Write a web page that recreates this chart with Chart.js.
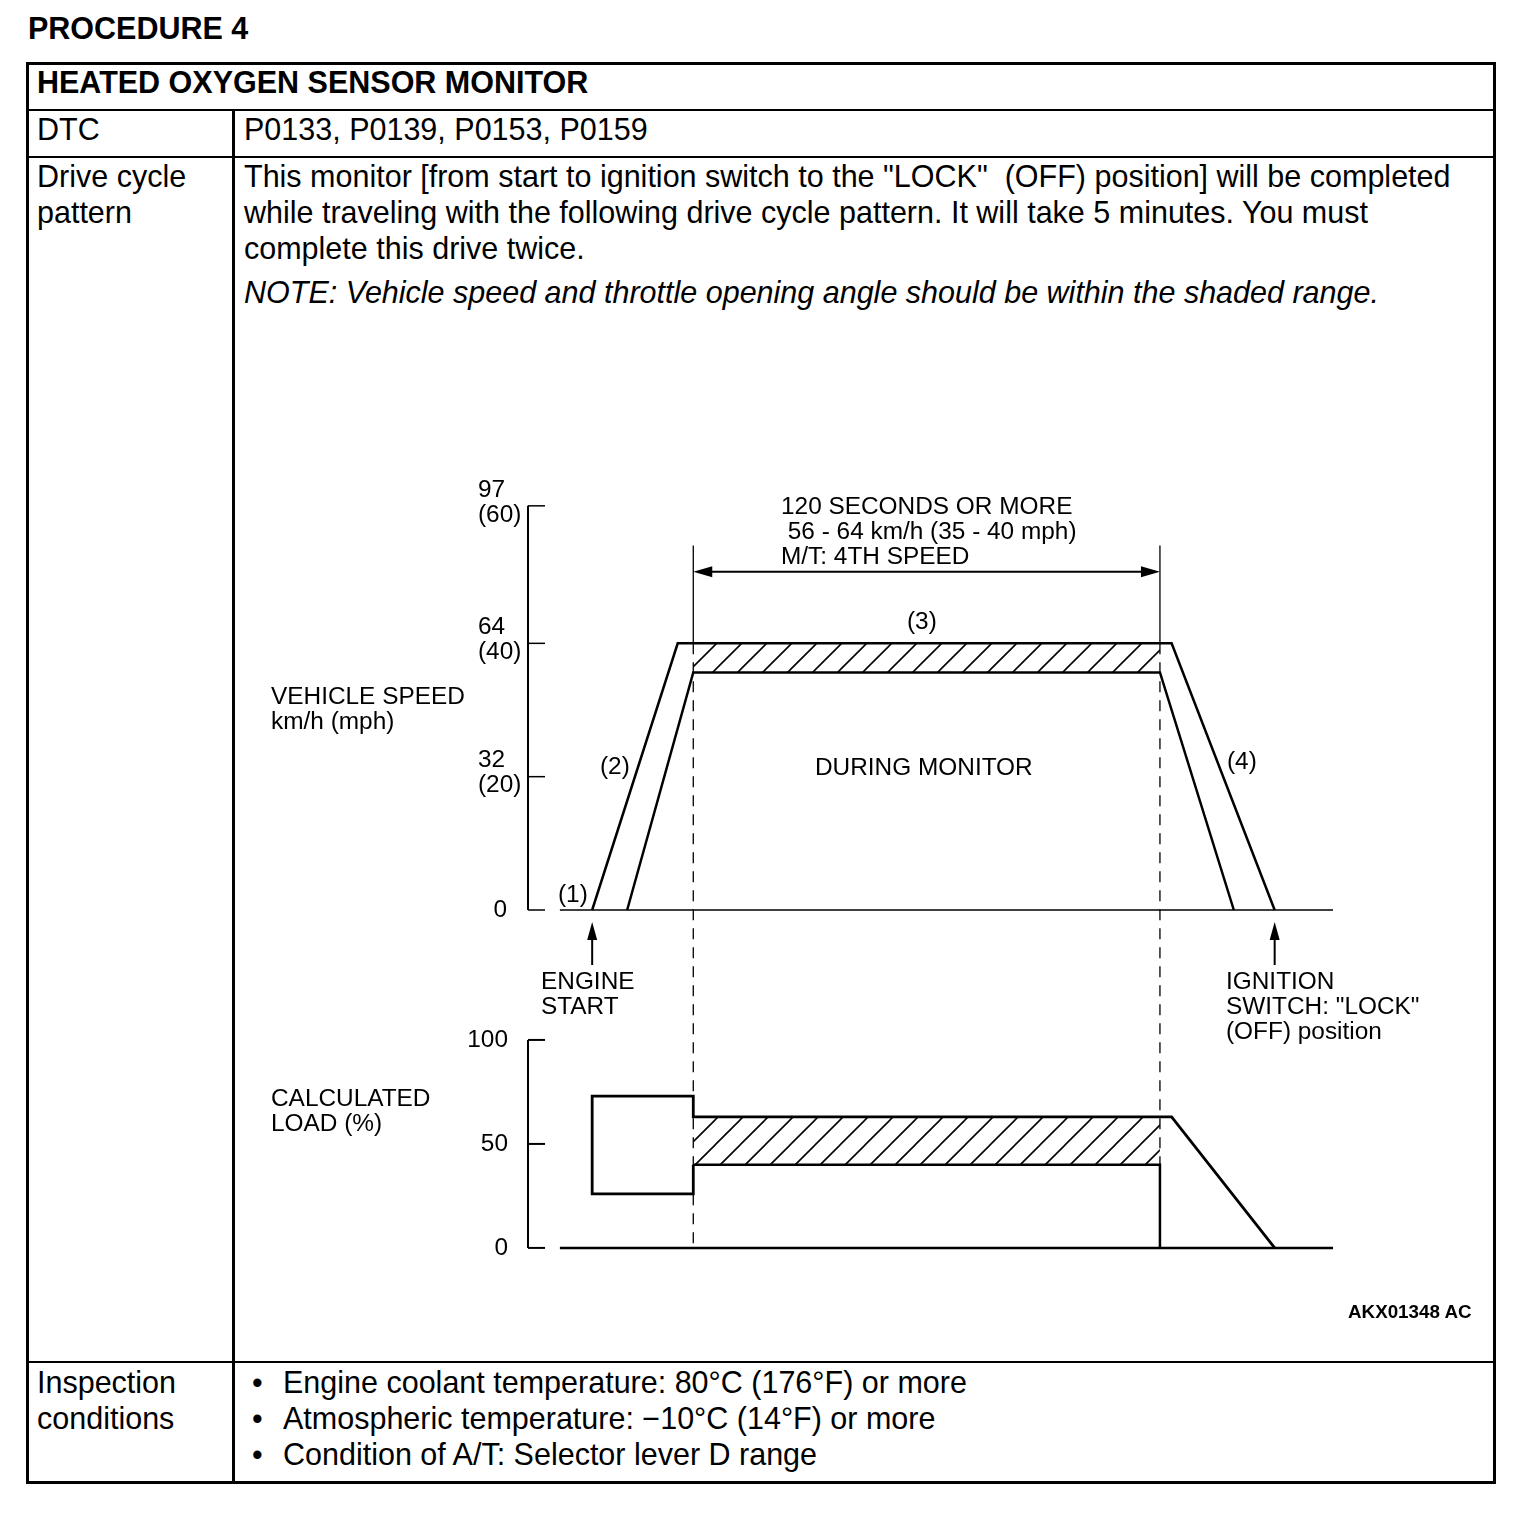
<!DOCTYPE html>
<html>
<head>
<meta charset="utf-8">
<script src="https://cdn.jsdelivr.net/npm/chart.js@4.4.1/dist/chart.umd.min.js"></script>
<style>
  html, body { margin: 0; padding: 0; background: #fff; }
  body { width: 1520px; height: 1518px; position: relative; overflow: hidden;
         font-family: 'Liberation Sans', Arial, sans-serif; color: #000; }
  .abs { position: absolute; white-space: pre; }
  .t30 { font-size: 30.5px; line-height: 36px; }
  .b { font-weight: bold; }
  .i { font-style: italic; }
  .lbl { font-size: 24.4px; line-height: 25px; }
  .rule { position: absolute; background: #000; }
  #chart { position: absolute; left: 240px; top: 470px; }
</style>
</head>
<body>

<div class="abs t30 b" style="left:28px;top:10px">PROCEDURE 4</div>

<!-- table frame -->
<div class="rule" style="left:26px;top:62px;width:1470px;height:3px"></div>
<div class="rule" style="left:26px;top:1481px;width:1470px;height:3px"></div>
<div class="rule" style="left:26px;top:62px;width:3px;height:1422px"></div>
<div class="rule" style="left:1493px;top:62px;width:3px;height:1422px"></div>
<div class="rule" style="left:26px;top:109px;width:1470px;height:2px"></div>
<div class="rule" style="left:26px;top:156px;width:1470px;height:2px"></div>
<div class="rule" style="left:26px;top:1361px;width:1470px;height:2px"></div>
<div class="rule" style="left:232px;top:109px;width:3px;height:1375px"></div>

<div class="abs t30 b" style="left:37px;top:64px">HEATED OXYGEN SENSOR MONITOR</div>
<div class="abs t30" style="left:37px;top:111px">DTC</div>
<div class="abs t30" style="left:244px;top:111px">P0133, P0139, P0153, P0159</div>

<div class="abs t30" style="left:37px;top:158px">Drive cycle
pattern</div>
<div class="abs t30" style="left:244px;top:158px">This monitor [from start to ignition switch to the "LOCK"  (OFF) position] will be completed
while traveling with the following drive cycle pattern. It will take 5 minutes. You must
complete this drive twice.</div>
<div class="abs t30 i" style="left:244px;top:274px">NOTE: Vehicle speed and throttle opening angle should be within the shaded range.</div>

<div class="abs t30" style="left:37px;top:1364px">Inspection
conditions</div>
<div class="abs t30" style="left:252px;top:1364px">•
•
•</div>
<div class="abs t30" style="left:283px;top:1364px">Engine coolant temperature: 80°C (176°F) or more
Atmospheric temperature: −10°C (14°F) or more
Condition of A/T: Selector lever D range</div>

<!-- chart -->
<canvas id="chart" width="1250" height="880"></canvas>

<div class="abs lbl" style="left:271px;top:683px">VEHICLE SPEED
km/h (mph)</div>
<div class="abs lbl" style="left:271px;top:1085px">CALCULATED
LOAD (%)</div>
<div class="abs lbl" style="left:781px;top:493px">120 SECONDS OR MORE
 56 - 64 km/h (35 - 40 mph)
M/T: 4TH SPEED</div>
<div class="abs lbl" style="left:907px;top:608px">(3)</div>
<div class="abs lbl" style="left:600px;top:753px">(2)</div>
<div class="abs lbl" style="left:1227px;top:748px">(4)</div>
<div class="abs lbl" style="left:558px;top:881px">(1)</div>
<div class="abs lbl" style="left:815px;top:754px">DURING MONITOR</div>
<div class="abs lbl" style="left:541px;top:968px">ENGINE
START</div>
<div class="abs lbl" style="left:1226px;top:968px">IGNITION
SWITCH: "LOCK"
(OFF) position</div>
<div class="abs b" style="left:1348px;top:1302px;font-size:18.8px;line-height:20px">AKX01348 AC</div>

<script>
// time axis in seconds, vehicle speed in km/h, load in %
const timeMin = 0;
const timeMax = 207;
const speedMin = -81.6;
const speedMax = 98.4;
const loadMin = -1;
const loadMax = 359.6;
const baseStart = 8.2;

const speedTicks = [0, 32, 64, 97];
const speedTickMph = ['', '(20)', '(40)', '(60)'];
const loadTicks = [0, 50, 100];

// vehicle speed envelope
const outerTime = [16.5, 38.5, 165.5, 192];
const outerSpeed = [0, 64, 64, 0];
const innerTime = [25.5, 42.5, 162.5, 181.5];
const innerSpeed = [0, 57, 57, 0];

// monitor window (120 s)
const monitorTime = [42.5, 162.5];
const speedBandTop = [64, 64];
const speedBandLow = [57, 57];

// calculated load
const loadUpperTime = [42.5, 42.5, 16.5, 16.5, 42.5, 42.5, 165.5, 192];
const loadUpper = [40, 26, 26, 73, 73, 63, 63, 0];
const loadLowerTime = [42.5, 162.5, 162.5];
const loadLower = [40, 40, 0];
const loadBandTop = [63, 63];
const loadBandLow = [40, 40];

// engine start / ignition off markers
const eventTime = [16.5, 192];

const pts = (xs, ys) => xs.map((x, i) => ({ x, y: ys[i] }));

function makeHatch() {
  const s = 25;
  const c = document.createElement('canvas');
  c.width = s; c.height = s;
  const g = c.getContext('2d');
  g.strokeStyle = '#000';
  g.lineWidth = 1.6;
  g.beginPath();
  g.moveTo(0, s); g.lineTo(s, 0);
  g.moveTo(-6, 6); g.lineTo(6, -6);
  g.moveTo(s - 6, s + 6); g.lineTo(s + 6, s - 6);
  g.stroke();
  return g.createPattern(c, 'repeat');
}

function arrowHead(ctx, tx, ty, dx, dy, len, half) {
  // tip at (tx,ty), pointing along (dx,dy)
  const bx = tx - dx * len, by = ty - dy * len;
  ctx.beginPath();
  ctx.moveTo(tx, ty);
  ctx.lineTo(bx - dy * half, by + dx * half);
  ctx.lineTo(bx + dy * half, by - dx * half);
  ctx.closePath();
  ctx.fill();
}

const axesPlugin = {
  id: 'axes',
  afterDatasetsDraw(chart) {
    const { ctx, scales: { x, ySpeed, yLoad } } = chart;
    const x0 = x.getPixelForValue(0);
    const xb = x.getPixelForValue(baseStart);
    const xe = x.getPixelForValue(timeMax);
    ctx.save();
    ctx.strokeStyle = '#000';
    ctx.fillStyle = '#000';
    ctx.font = "24.4px 'Liberation Sans', Arial, sans-serif";
    ctx.textBaseline = 'middle';

    // vertical axes
    ctx.lineWidth = 2;
    ctx.beginPath();
    ctx.moveTo(x0, ySpeed.getPixelForValue(97));
    ctx.lineTo(x0, ySpeed.getPixelForValue(0));
    ctx.moveTo(x0, yLoad.getPixelForValue(100));
    ctx.lineTo(x0, yLoad.getPixelForValue(0));
    ctx.stroke();

    ctx.lineWidth = 1.5;
    speedTicks.forEach((v, i) => {
      const py = ySpeed.getPixelForValue(v);
      ctx.beginPath();
      ctx.moveTo(x0, py); ctx.lineTo(x0 + 17, py);
      ctx.stroke();
      if (speedTickMph[i]) {
        ctx.textAlign = 'left';
        ctx.fillText(String(v), x0 - 50, py - 16);
        ctx.fillText(speedTickMph[i], x0 - 50, py + 9);
      } else {
        ctx.textAlign = 'right';
        ctx.fillText(String(v), x0 - 21, py);
      }
    });
    ctx.lineWidth = 2;
    loadTicks.forEach(v => {
      const py = yLoad.getPixelForValue(v);
      ctx.beginPath();
      ctx.moveTo(x0, py); ctx.lineTo(x0 + 17, py);
      ctx.stroke();
      ctx.textAlign = 'right';
      ctx.fillText(String(v), x0 - 20, py);
    });

    // zero baselines
    ctx.lineWidth = 1.5;
    ctx.beginPath();
    ctx.moveTo(xb, ySpeed.getPixelForValue(0));
    ctx.lineTo(xe, ySpeed.getPixelForValue(0));
    ctx.stroke();
    ctx.lineWidth = 2.5;
    ctx.beginPath();
    ctx.moveTo(xb, yLoad.getPixelForValue(0));
    ctx.lineTo(xe, yLoad.getPixelForValue(0));
    ctx.stroke();

    // monitor window guide lines
    const yDim = ySpeed.getPixelForValue(81.2);
    const yExtTop = ySpeed.getPixelForValue(87.5);
    const yBandTop = ySpeed.getPixelForValue(64);
    const yLoad0 = yLoad.getPixelForValue(0);
    ctx.lineWidth = 1.3;
    monitorTime.forEach(t => {
      const px = x.getPixelForValue(t);
      ctx.setLineDash([]);
      ctx.beginPath();
      ctx.moveTo(px, yExtTop); ctx.lineTo(px, yBandTop);
      ctx.stroke();
      ctx.setLineDash([11, 8]);
      ctx.beginPath();
      ctx.moveTo(px, yBandTop); ctx.lineTo(px, yLoad0);
      ctx.stroke();
    });
    ctx.setLineDash([]);

    // 120 s dimension arrow
    const xa = x.getPixelForValue(monitorTime[0]);
    const xz = x.getPixelForValue(monitorTime[1]);
    ctx.lineWidth = 2;
    ctx.beginPath();
    ctx.moveTo(xa + 10, yDim); ctx.lineTo(xz - 10, yDim);
    ctx.stroke();
    arrowHead(ctx, xa, yDim, -1, 0, 19, 5.5);
    arrowHead(ctx, xz, yDim, 1, 0, 19, 5.5);

    // engine start / ignition off arrows
    const y0 = ySpeed.getPixelForValue(0);
    eventTime.forEach(t => {
      const px = x.getPixelForValue(t);
      ctx.lineWidth = 2;
      ctx.beginPath();
      ctx.moveTo(px, y0 + 55); ctx.lineTo(px, y0 + 25);
      ctx.stroke();
      arrowHead(ctx, px, y0 + 12, 0, -1, 18, 5);
    });
    ctx.restore();
  }
};

const hatch = makeHatch();
const lineStyle = { borderColor: '#000', pointRadius: 0, fill: false, tension: 0, borderJoinStyle: 'miter' };

new Chart(document.getElementById('chart'), {
  type: 'line',
  data: {
    datasets: [
      { data: pts(monitorTime, speedBandTop), yAxisID: 'ySpeed', borderWidth: 0, pointRadius: 0,
        fill: '+1', backgroundColor: hatch },
      { data: pts(monitorTime, speedBandLow), yAxisID: 'ySpeed', borderWidth: 0, pointRadius: 0, fill: false },
      { data: pts(monitorTime, loadBandTop), yAxisID: 'yLoad', borderWidth: 0, pointRadius: 0,
        fill: '+1', backgroundColor: hatch },
      { data: pts(monitorTime, loadBandLow), yAxisID: 'yLoad', borderWidth: 0, pointRadius: 0, fill: false },
      { ...lineStyle, data: pts(outerTime, outerSpeed), yAxisID: 'ySpeed', borderWidth: 2.5 },
      { ...lineStyle, data: pts(innerTime, innerSpeed), yAxisID: 'ySpeed', borderWidth: 2.5 },
      { ...lineStyle, data: pts(loadUpperTime, loadUpper), yAxisID: 'yLoad', borderWidth: 2.8 },
      { ...lineStyle, data: pts(loadLowerTime, loadLower), yAxisID: 'yLoad', borderWidth: 2.5 }
    ]
  },
  options: {
    responsive: false,
    devicePixelRatio: 1,
    animation: false,
    events: [],
    layout: { padding: { left: 288, right: 157, top: 30, bottom: 100 } },
    plugins: { legend: { display: false }, tooltip: { enabled: false } },
    scales: {
      x: { type: 'linear', min: timeMin, max: timeMax, display: false },
      ySpeed: { type: 'linear', min: speedMin, max: speedMax, display: false },
      yLoad: { type: 'linear', min: loadMin, max: loadMax, display: false }
    }
  },
  plugins: [axesPlugin]
});
</script>
</body>
</html>
